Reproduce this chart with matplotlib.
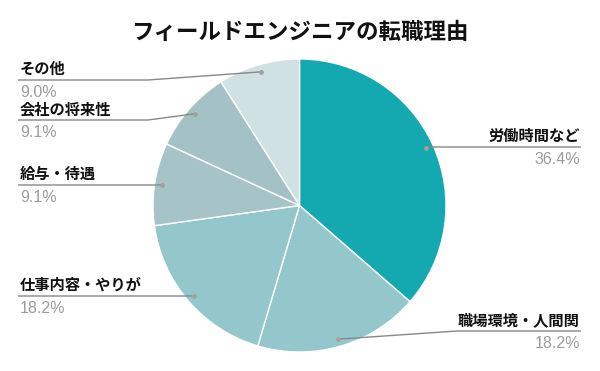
import numpy as np
import matplotlib
matplotlib.use("Agg")
import matplotlib.pyplot as plt

plt.rcParams["font.family"] = ["Noto Sans CJK JP", "DejaVu Sans"]

# data, clockwise from 12 o'clock
labels = ["労働時間など", "職場環境・人間関", "仕事内容・やりが", "給与・待遇", "会社の将来性", "その他"]
values = [36.4, 18.2, 18.2, 9.1, 9.1, 9.0]
colors = ["#14a9b1", "#93c7cb", "#94c7cb", "#a6c4c8", "#a4c2c6", "#d0e1e4"]

# label layout (pixels, y from top): side, line y, knee x
layout = [
    ("right", 147, 427),
    ("right", 331, 457),
    ("left", 296, 194),
    ("left", 185, 162),
    ("left", 120, 148),
    ("left", 80, 148),
]

W, H = 600, 371
fig = plt.figure(figsize=(6, 3.71), dpi=100)
ax = fig.add_axes([0, 0, 1, 1])

cx, cy, r = 299.5, H - 205.5, 146.5
wedges, _ = ax.pie(values, colors=colors, startangle=90, counterclock=False,
                   center=(cx, cy), radius=r, frame=True,
                   wedgeprops=dict(edgecolor="white", linewidth=1.0))
ax.set_xlim(0, W)
ax.set_ylim(0, H)
ax.axis("off")

ax.text(W / 2, H - 32, "フィールドエンジニアの転職理由", ha="center", va="center",
        fontsize=16.2, fontweight="bold", color="#111111")

total = sum(values)
start = 0.0
for lab, val, (side, ly, kx) in zip(labels, values, layout):
    mid = (start + val / 2) / total * 2 * np.pi
    start += val
    dx = cx + 0.95 * r * np.sin(mid)
    dy = cy + 0.95 * r * np.cos(mid)
    y = H - ly
    if side == "right":
        xs = [dx, kx, 581]
        tx, ha = 580, "right"
    else:
        xs = [dx, kx, 18]
        tx, ha = 20, "left"
    ax.plot(xs, [dy, y, y], color="#888888", linewidth=1.0, solid_capstyle="butt")
    ax.plot(dx, dy, "o", color="#a0a0a0", markersize=3.5, markeredgewidth=0)
    ax.text(tx, y + 3, lab, ha=ha, va="bottom", fontsize=11, fontweight="bold", color="#111111")
    ax.text(tx, y - 5, f"{val:.1f}%", ha=ha, va="top", fontsize=11.5,
            family=["Liberation Sans", "DejaVu Sans"], color="#9c9c9c")

fig.savefig("out.png", dpi=100)
